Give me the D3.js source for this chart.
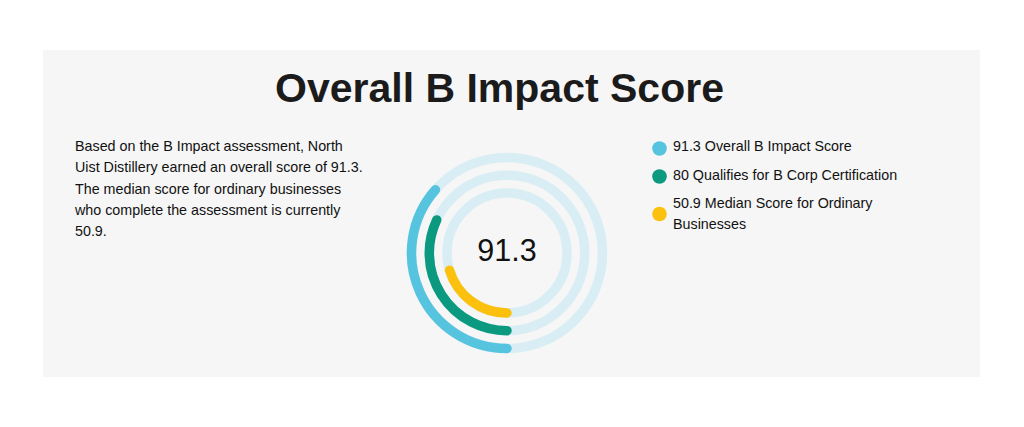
<!DOCTYPE html>
<html>
<head>
<meta charset="utf-8">
<script src="https://cdn.jsdelivr.net/npm/d3@7"></script>
<style>
  html, body { margin: 0; padding: 0; background: #ffffff; }
  svg { display: block; font-family: "Liberation Sans", Arial, Helvetica, sans-serif; }
</style>
</head>
<body>
<svg id="chart" width="1024" height="427"></svg>
<script>
// ---- data ----
const title = "Overall B Impact Score";
const scoreMax = 250;
const seriesNames = ["Overall B Impact Score", "Qualifies for B Corp Certification", "Median Score for Ordinary Businesses"];
const seriesValues = [91.3, 80, 50.9];
const seriesColors = ["#57c4df", "#0b9a7f", "#fcc10f"];
const legendLines = [
  ["91.3 Overall B Impact Score"],
  ["80 Qualifies for B Corp Certification"],
  ["50.9 Median Score for Ordinary", "Businesses"]
];
const centerLabel = "91.3";
const paragraphLines = [
  "Based on the B Impact assessment, North",
  "Uist Distillery earned an overall score of 91.3.",
  "The median score for ordinary businesses",
  "who complete the assessment is currently",
  "50.9."
];

// ---- layout ----
const svg = d3.select("#chart");
const panel = { x: 43, y: 50, w: 937, h: 327 };
const cx = 507, cy = 253;
const radii = [95.5, 77.7, 60];
const ringWidth = 9.5;
const trackColor = "#d9eef4";

svg.append("rect")
  .attr("x", panel.x).attr("y", panel.y)
  .attr("width", panel.w).attr("height", panel.h)
  .attr("fill", "#f6f6f6");

svg.append("text")
  .attr("x", 499.5).attr("y", 102)
  .attr("text-anchor", "middle")
  .attr("font-size", 41)
  .attr("font-weight", "bold")
  .attr("fill", "#1b1b1b")
  .text(title);

// paragraph
const para = svg.append("text")
  .attr("x", 75).attr("y", 151)
  .attr("font-size", 14.3)
  .attr("fill", "#111");
para.selectAll("tspan").data(paragraphLines).join("tspan")
  .attr("x", 75)
  .attr("dy", (d, i) => i === 0 ? 0 : 21.3)
  .text(d => d);

// rings
const angle = d3.scaleLinear().domain([0, scoreMax]).range([0, 2 * Math.PI]);
const g = svg.append("g").attr("transform", `translate(${cx},${cy})`);

function arcPath(r, value) {
  const p = d3.path();
  const a0 = Math.PI / 2; // bottom
  p.arc(0, 0, r, a0, a0 + angle(value), false);
  return p.toString();
}

g.selectAll("circle.track").data(radii).join("circle")
  .attr("class", "track")
  .attr("r", d => d)
  .attr("fill", "none")
  .attr("stroke", trackColor)
  .attr("stroke-width", ringWidth);

g.selectAll("path.bar").data(seriesValues).join("path")
  .attr("class", "bar")
  .attr("d", (d, i) => arcPath(radii[i], d))
  .attr("fill", "none")
  .attr("stroke", (d, i) => seriesColors[i])
  .attr("stroke-width", ringWidth)
  .attr("stroke-linecap", "round");

g.append("text")
  .attr("x", 0).attr("y", 8)
  .attr("text-anchor", "middle")
  .attr("font-size", 30.5)
  .attr("fill", "#111")
  .text(centerLabel);

// legend
const legendY = [148.5, 176.5, 214];
const legendTextY = [151, 179.5, 207.5];
const lg = svg.append("g");
const items = lg.selectAll("g.item").data(seriesNames).join("g").attr("class", "item");
items.append("circle")
  .attr("cx", 659.5)
  .attr("cy", (d, i) => legendY[i])
  .attr("r", 7.3)
  .attr("fill", (d, i) => seriesColors[i]);
items.append("text")
  .attr("x", 673)
  .attr("y", (d, i) => legendTextY[i])
  .attr("font-size", 14.3)
  .attr("fill", "#111")
  .selectAll("tspan").data((d, i) => legendLines[i]).join("tspan")
  .attr("x", 673)
  .attr("dy", (d, j) => j === 0 ? 0 : 21.2)
  .text(d => d);
</script>
</body>
</html>
